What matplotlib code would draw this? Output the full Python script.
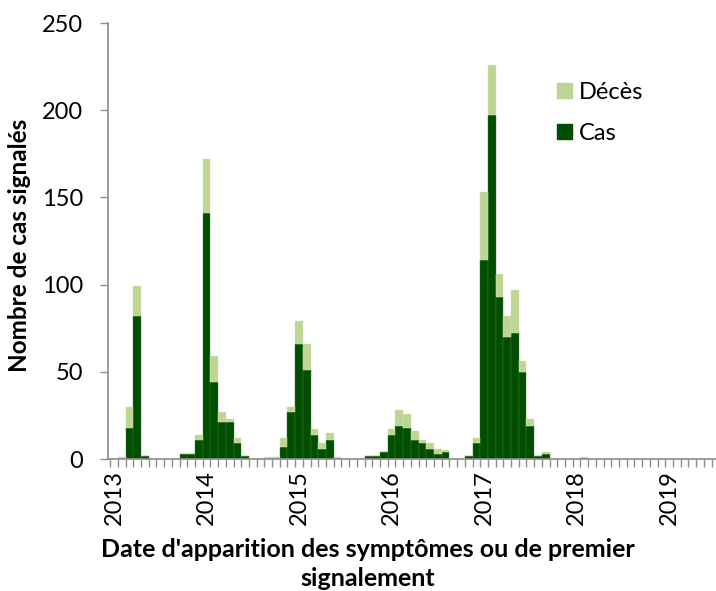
import matplotlib.pyplot as plt
import numpy as np
from matplotlib.patches import Patch

plt.rcParams['font.family'] = ['Lato', 'DejaVu Sans']

# monthly counts, Jan 2013 .. Jun 2019
cas = [0, 0, 18, 82, 2, 0, 0, 0, 0, 3, 3, 11,
       141, 44, 21, 21, 9, 2, 0, 0, 0, 0, 7, 27,
       66, 51, 14, 6, 11, 0, 0, 0, 0, 2, 2, 4,
       14, 19, 18, 11, 9, 6, 3, 4, 0, 0, 2, 9,
       114, 197, 93, 70, 72, 50, 19, 2, 3, 0, 0, 0,
       0, 0, 0, 0, 0, 0, 0, 0, 0, 0, 0, 0,
       0, 0, 0, 0, 0, 0]
deces = [0, 1, 12, 17, 0, 0, 0, 0, 0, 0, 0, 3,
         31, 15, 6, 2, 3, 0, 0, 0, 1, 1, 5, 3,
         13, 15, 3, 3, 4, 1, 0, 0, 0, 0, 0, 0,
         3, 9, 8, 5, 2, 3, 3, 1, 0, 0, 0, 3,
         39, 29, 13, 12, 25, 6, 4, 0, 1, 0, 0, 0,
         0, 1, 0, 0, 0, 0, 0, 0, 0, 0, 0, 0,
         0, 0, 0, 0, 0, 0]
years = ['2013', '2014', '2015', '2016', '2017', '2018', '2019']

dark = '#004f00'
light = '#bed593'
grey = '#8c8c8c'

x = np.arange(len(cas))
fig = plt.figure(figsize=(7.16, 5.91), dpi=100)
ax = fig.add_axes([108 / 716, 132 / 591, 607 / 716, 436 / 591])

ax.bar(x, cas, width=1.0, color=dark, edgecolor='#3f7a2f', linewidth=0.3)
ax.bar(x, deces, width=1.0, bottom=cas, color=light, edgecolor='#d5e6b8', linewidth=0.3)

ax.set_xlim(-0.78, 77.95)
ax.set_ylim(0, 250)

ax.set_yticks(np.arange(0, 251, 50))
ax.tick_params(axis='y', length=6, width=1, color=grey, labelsize=17, pad=12)

ax.set_xticks(np.arange(-0.5, 78, 1))
ax.set_xticklabels([])
ax.tick_params(axis='x', which='major', length=6, width=1, color=grey)
ax.set_xticks(np.arange(0, 73, 12), years, minor=True)
ax.tick_params(axis='x', which='minor', length=0, labelsize=17, rotation=90, pad=8)

for s in ['top', 'right']:
    ax.spines[s].set_visible(False)
for s in ['left', 'bottom']:
    ax.spines[s].set_color(grey)
    ax.spines[s].set_linewidth(1.2)

handles = [Patch(color=light, label='Décès'), Patch(color=dark, label='Cas')]
ax.legend(handles=handles, loc='upper left', bbox_to_anchor=(545 / 716, 1 - 70 / 591),
          bbox_transform=fig.transFigure, frameon=False, fontsize=17,
          handlelength=0.65, handleheight=0.65, handletextpad=0.3, labelspacing=0.85,
          borderpad=0)

fig.text(20 / 716, 1 - 245 / 591, 'Nombre de cas signalés', rotation=90,
         ha='center', va='center', fontsize=17.5, fontweight='bold')
fig.text(368 / 716, 1 - 564 / 591,
         "Date d'apparition des symptômes ou de premier\nsignalement",
         ha='center', va='center', fontsize=18, fontweight='bold', linespacing=1.3)

fig.savefig('out.png', dpi=100)
